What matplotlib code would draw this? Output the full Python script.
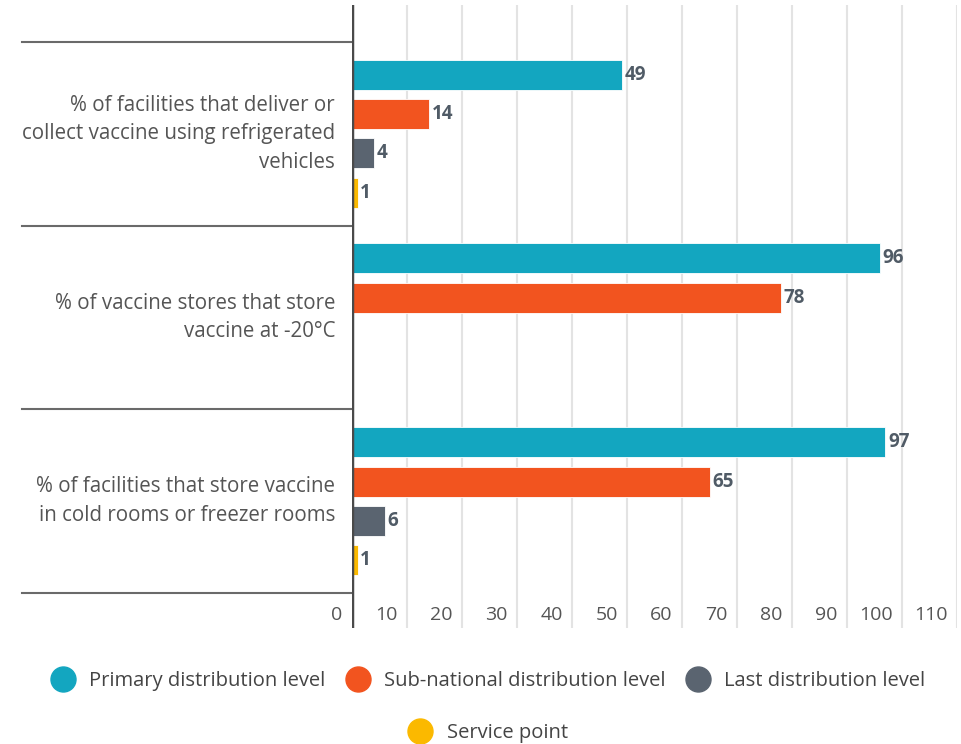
import matplotlib
matplotlib.use("Agg")
import matplotlib.pyplot as plt
import matplotlib.transforms as mtransforms
from matplotlib.lines import Line2D
import numpy as np

plt.rcParams['font.family'] = ['Open Sans', 'DejaVu Sans']

categories = [
    "% of facilities that deliver or\ncollect vaccine using refrigerated\nvehicles",
    "% of vaccine stores that store\nvaccine at -20°C",
    "% of facilities that store vaccine\nin cold rooms or freezer rooms",
]
series_names = ["Primary distribution level", "Sub-national distribution level",
                "Last distribution level", "Service point"]
primary = [49, 96, 97]
subnational = [14, 78, 65]
last_level = [4, None, 6]
service = [1, None, 1]
xticks = [0, 10, 20, 30, 40, 50, 60, 70, 80, 90, 100, 110]

colors = ["#13a6c0", "#f2541f", "#5a6470", "#fbb900"]
series = [primary, subnational, last_level, service]

W, H = 962, 744
fig = plt.figure(figsize=(W / 100, H / 100), dpi=100)
ax = fig.add_axes([352 / W, (H - 628) / H, 605 / W, 623 / H])

slot = 0.214
bar_h = 0.163
y = np.arange(len(categories))
for i, (vals, col) in enumerate(zip(series, colors)):
    off = (i - 1.5) * slot
    for j, v in enumerate(vals):
        if v is None:
            continue
        ax.barh(y[j] + off, v, height=bar_h, color=col, edgecolor="white",
                linewidth=0.6, zorder=3)
        ax.text(v + 0.5, y[j] + off, str(v), va="center", ha="left",
                fontsize=13.5, fontweight="bold", color="#505b66", zorder=4)

ax.set_xlim(0, 110)
ax.set_ylim(2.69, -0.70)

# gridlines
for t in xticks[1:]:
    ax.axvline(t, color="#e3e3e3", lw=1.5, zorder=1)
ax.axvline(0, color="#4a4a4a", lw=2.5, zorder=5)

# tick labels, right aligned just left of the grid line
for t in xticks:
    ax.text(t - 1.7, 0.021, str(t), transform=mtransforms.blended_transform_factory(ax.transData, ax.transAxes),
            ha="right", va="center", fontsize=14, color="#555555", zorder=4)

# group separators reaching into the label area
trans = mtransforms.blended_transform_factory(ax.transAxes, ax.transData)
for b in [-0.5, 0.5, 1.5, 2.5]:
    ax.plot([-0.5455, 0], [b, b], transform=trans, color="#6a6a6a", lw=1.5,
            clip_on=False, zorder=2)

# category labels
for j, lab in enumerate(categories):
    ax.text(-0.028, y[j], lab, transform=trans, ha="right", va="center",
            fontsize=14.8, color="#555555", linespacing=1.47, multialignment="right")

ax.set_xticks([])
ax.set_yticks([])
for s in ax.spines.values():
    s.set_visible(False)

handles = [Line2D([], [], marker="o", ls="", markersize=18, color=c) for c in colors]
leg1 = fig.legend(handles[:3], series_names[:3], loc="center", ncol=3,
                  bbox_to_anchor=(484 / W, 1 - 681 / H), frameon=False,
                  fontsize=14.5, handletextpad=0.3, columnspacing=0.62,
                  labelcolor="#444444")
leg2 = fig.legend(handles[3:], series_names[3:], loc="center", ncol=1,
                  bbox_to_anchor=(484 / W, 1 - 733 / H), frameon=False,
                  fontsize=14.5, handletextpad=0.3, labelcolor="#444444")

fig.savefig("out.png", dpi=100)
